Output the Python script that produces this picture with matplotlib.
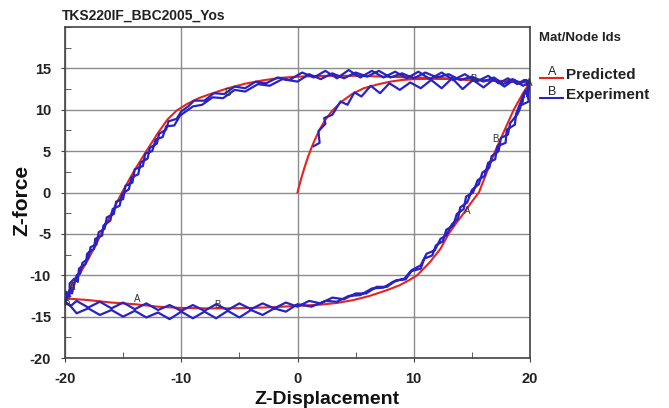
import numpy as np
import matplotlib.pyplot as plt
from matplotlib.lines import Line2D
from matplotlib.ticker import MultipleLocator

plt.rcParams['font.family'] = ['Liberation Sans', 'DejaVu Sans']
plt.rcParams['axes.unicode_minus'] = False

# ---- predicted response (red) ----
pred_virgin_x = [0, 0.3, 0.6, 0.9, 1.2, 1.5, 1.9, 2.4, 3.0, 3.8, 4.7, 5.7, 7.0, 8.0, 9.0, 10.0, 12.0, 14.0, 16.0, 18.0, 20.0]
pred_virgin_y = [0, 1.6, 3.0, 4.3, 5.4, 6.4, 7.6, 8.8, 9.9, 11.0, 11.9, 12.6, 13.1, 13.4, 13.6, 13.7, 13.75, 13.7, 13.6, 13.45, 13.3]

pred_down_x = [20, 19.4, 18.6, 17.8, 17.0, 16.3, 15.6, 14.9, 14.3, 13.6, 13.0, 12.3, 11.4, 10.3, 9.6, 8.8,
               7.7, 6.2, 4.8, 3.4, 2.0, 0, -2, -4, -6, -8, -10, -12, -14, -16, -18, -19.5, -20]
pred_down_y = [13.3, 12.0, 10.0, 7.5, 5.0, 2.5, 0, -1.3, -2.5, -3.8, -5.0, -6.8, -8.4, -10.0, -10.6, -11.2,
               -11.8, -12.5, -13.0, -13.35, -13.55, -13.7, -13.85, -13.95, -14.0, -14.0, -13.95, -13.8,
               -13.5, -13.3, -13.0, -12.85, -12.8]

pred_up_x = [-20, -19.7, -19.3, -18.8, -18.1, -17.4, -16.9, -16.0, -15.1, -14.1, -13.0, -12.0, -11.2, -10.4,
             -9.5, -8.5, -7.5, -6.0, -4.5, -3.0, -1.5, 0, 2.5, 5, 7.5, 10, 12.5, 15, 17.5, 20]
pred_up_y = [-12.8, -12.0, -11.0, -10.0, -8.3, -6.5, -5.0, -2.5, 0, 2.5, 5.0, 7.2, 8.8, 9.9,
             10.7, 11.4, 11.9, 12.6, 13.15, 13.55, 13.85, 14.0, 14.1, 14.1, 14.0, 13.9, 13.8, 13.6, 13.45, 13.3]

# ---- measured response (blue) ----
exp_virgin_x = [1.4, 1.9, 1.8, 2.4, 2.3, 3.0, 3.7, 4.3, 4.9, 5.5, 6.3, 7.1, 7.9, 8.8, 9.7, 10.6, 11.5, 12.4,
                13.3, 14.2, 15.1, 16.0, 16.9, 17.8, 18.6, 19.4, 20.0]
exp_virgin_y = [5.6, 6.0, 7.4, 8.3, 9.0, 9.4, 11.0, 10.6, 12.1, 11.6, 12.9, 12.0, 13.2, 12.4, 13.3, 12.6, 13.6, 12.6,
                13.8, 12.5, 13.6, 12.7, 13.7, 12.8, 13.6, 12.9, 13.3]

exp_down1_x = [20.0, 19.7, 19.9, 19.3, 19.5, 18.8, 18.7, 18.0, 17.9, 17.2, 17.0, 16.4, 16.1, 15.5, 15.1, 14.5,
               14.3, 13.7, 13.4, 12.8, 12.5, 11.9, 11.6, 10.9, 10.6, 9.8, 9.3, 8.5, 7.7, 6.8, 5.9, 5.0, 4.0, 3.0,
               2.0, 1.0, 0.0, -1.0, -2.0, -3.0, -4.0, -5.0, -6.0, -7.0, -8.0, -9.0, -10.0, -11.0, -12.0, -13.0,
               -14.0, -15.0, -16.0, -17.0, -18.0, -19.0, -19.5, -20.0]
exp_down1_y = [13.3, 12.2, 11.0, 10.6, 12.0, 9.5, 8.2, 7.6, 6.0, 5.6, 4.0, 3.6, 2.0, 1.5, 0.0, -0.5,
               -2.0, -2.6, -4.0, -4.5, -5.9, -6.4, -7.6, -8.0, -9.2, -9.5, -10.5, -10.6, -11.4, -11.4, -12.2,
               -12.2, -12.9, -12.7, -13.4, -13.1, -13.8, -13.3, -14.0, -13.4, -14.1, -13.4, -14.2, -13.5, -14.3,
               -13.6, -14.3, -13.6, -14.2, -13.4, -14.1, -13.3, -14.0, -13.2, -13.9, -13.1, -13.7, -13.2]

exp_up1_x = [-20.0, -19.9, -19.6, -19.6, -19.2, -18.9, -18.8, -18.2, -18.1, -17.5, -17.4, -16.8, -16.7, -16.1,
             -15.9, -15.3, -15.1, -14.5, -14.3, -13.7, -13.5, -12.9, -12.7, -12.1, -11.9, -11.3, -11.1, -10.4,
             -10.0, -9.4, -8.9, -8.0, -7.2, -6.3, -5.4, -4.5, -3.6, -2.7, -1.7, -0.7, 0.4, 1.4, 2.4, 3.4, 4.4,
             5.4, 6.4, 7.4, 8.4, 9.4, 10.4, 11.4, 12.4, 13.4, 14.4, 15.4, 16.4, 17.3, 18.1, 18.9, 19.5, 20.0]
exp_up1_y = [-13.4, -12.0, -12.6, -11.0, -10.4, -10.8, -9.2, -8.6, -7.4, -6.8, -5.6, -5.2, -4.0, -3.4,
             -2.0, -1.6, -0.2, 0.4, 1.8, 2.2, 3.6, 4.1, 5.4, 5.9, 7.1, 7.6, 8.6, 8.9,
             9.8, 10.4, 11.1, 11.1, 12.0, 11.9, 12.8, 12.6, 13.4, 13.2, 13.9, 13.6, 14.5, 13.9, 14.7, 13.8, 14.8,
             13.9, 14.7, 13.9, 14.6, 13.8, 14.6, 13.7, 14.5, 13.6, 14.3, 13.4, 14.1, 13.2, 13.8, 13.1, 13.6, 13.3]

exp_down2_x = [20.0, 19.8, 19.6, 19.1, 18.9, 18.3, 18.1, 17.5, 17.3, 16.7, 16.5, 15.9, 15.6, 15.0, 14.6, 14.0,
               13.8, 13.3, 12.8, 12.3, 11.8, 11.1, 10.6, 9.8, 9.2, 8.2, 7.4, 6.4, 5.4, 4.4, 3.4, 2.4, 1.2, 0.0,
               -1.0, -2.0, -3.0, -4.0, -5.0, -6.0, -7.0, -8.0, -9.0, -10.0, -11.0, -12.0, -13.0, -14.0, -15.0,
               -16.0, -17.0, -18.0, -19.0, -19.6, -20.0]
exp_down2_y = [13.5, 11.6, 12.3, 10.0, 9.4, 8.4, 7.0, 6.6, 5.0, 4.4, 3.0, 2.4, 1.0, 0.3, -1.2, -1.8,
               -3.2, -3.8, -5.2, -5.6, -7.0, -7.4, -8.8, -9.4, -10.4, -10.8, -11.5, -11.6, -12.4, -12.5, -13.2,
               -13.1, -13.8, -13.5, -14.4, -14.0, -14.8, -14.2, -15.1, -14.3, -15.2, -14.4, -15.2, -14.4, -15.3,
               -14.5, -15.1, -14.3, -15.0, -14.2, -14.8, -14.0, -14.6, -13.6, -13.4]

exp_up2_x = [-20.0, -19.8, -19.5, -19.4, -19.0, -18.7, -18.5, -18.0, -17.8, -17.3, -17.1, -16.6, -16.4, -15.8,
             -15.6, -15.0, -14.8, -14.2, -14.0, -13.3, -13.1, -12.5, -12.2, -11.6, -11.3, -10.6, -10.1, -9.0,
             -8.2, -7.3, -6.4, -5.4, -4.5, -3.4, -2.4, -1.3, 0.0, 1.0, 2.0, 3.0, 4.0, 5.0, 6.0, 7.0,
             8.0, 9.0, 10.0, 11.0, 12.0, 13.0, 14.0, 15.0, 16.0, 16.9, 17.7, 18.5, 19.2, 19.7, 20.0]
exp_up2_y = [-13.6, -12.6, -11.6, -12.2, -10.0, -9.8, -8.5, -8.0, -6.6, -6.3, -4.8, -4.4, -3.0, -2.6,
             -1.1, -0.8, 0.8, 1.2, 2.8, 3.2, 4.7, 5.0, 6.4, 6.7, 8.0, 8.1, 9.3, 10.4,
             10.6, 11.5, 11.4, 12.4, 12.2, 13.1, 12.9, 13.7, 13.4, 14.3, 13.7, 14.4, 13.8, 14.5, 14.0, 14.7,
             13.9, 14.4, 13.8, 14.5, 13.9, 14.3, 13.6, 14.0, 13.4, 13.9, 13.1, 13.7, 13.2, 13.6, 12.5]

# curve id letters placed along the lines
id_labels = ['B', 'B', 'A', 'B', 'A', 'A', 'B', 'A', 'B']
id_x = [-6.0, 15.1, 19.9, 17.0, 14.6, -19.4, -19.9, -13.8, -6.9]
id_y = [12.0, 13.7, 13.2, 6.5, -2.2, -11.4, -13.2, -12.9, -13.6]

RED = '#e5241e'
BLUE = '#2824c4'

pred_x = pred_virgin_x + pred_down_x + pred_up_x
pred_y = pred_virgin_y + pred_down_y + pred_up_y
exp_x = exp_virgin_x + exp_down1_x + exp_up1_x + exp_down2_x + exp_up2_x
exp_y = exp_virgin_y + exp_down1_y + exp_up1_y + exp_down2_y + exp_up2_y

fig = plt.figure(figsize=(6.69, 4.08), dpi=100)
ax = fig.add_axes([65 / 669, 50 / 408, 465 / 669, 331 / 408])

ax.plot(pred_x, pred_y, color=RED, lw=1.5, zorder=3)
ax.plot(exp_x, exp_y, color=BLUE, lw=1.6, zorder=4)

for lab, x, y in zip(id_labels, id_x, id_y):
    ax.text(x, y, lab, fontsize=7, color='#333333', ha='center', va='center', zorder=5)

ax.set_xlim(-20, 20)
ax.set_ylim(-20, 20)
ax.xaxis.set_major_locator(MultipleLocator(10))
ax.xaxis.set_minor_locator(MultipleLocator(5))
ax.set_yticks([-20, -15, -10, -5, 0, 5, 10, 15])
ax.yaxis.set_minor_locator(MultipleLocator(2.5))
ax.grid(True, which='major', color='#8c8c8c', lw=1.0)
ax.set_axisbelow(True)
for s in ax.spines.values():
    s.set_color('#444444')
    s.set_linewidth(1.2)
ax.tick_params(which='major', direction='out', length=3, color='#444444', labelsize=10.5, pad=7)
ax.tick_params(which='minor', direction='in', length=4, color='#444444')
for lbl in ax.get_xticklabels() + ax.get_yticklabels():
    lbl.set_fontweight('bold')
    lbl.set_color('#222222')

fig.text(327 / 669, 1 - 400 / 408, 'Z-Displacement', fontsize=14, fontweight='bold',
         ha='center', va='center', color='#111111')
fig.text(22 / 669, 1 - 200 / 408, 'Z-force', fontsize=15, fontweight='bold', rotation=90,
         ha='center', va='center', color='#111111')
fig.text(62 / 669, 1 - 16 / 408, 'TKS220IF_BBC2005_Yos', fontsize=10, fontweight='bold',
         ha='left', va='center', color='#222222')

# legend block to the right of the plot
fig.text(539 / 669, 1 - 38 / 408, 'Mat/Node Ids', fontsize=9.5, fontweight='bold',
         ha='left', va='center', color='#222222')
for i, (lab, name, col) in enumerate([('A', 'Predicted', RED), ('B', 'Experiment', BLUE)]):
    yl = 78 + i * 20
    fig.add_artist(Line2D([540 / 669, 563 / 669], [1 - yl / 408, 1 - yl / 408],
                          color=col, lw=1.5, transform=fig.transFigure))
    fig.text(552 / 669, 1 - (yl - 6) / 408, lab, fontsize=9, ha='center', va='center', color='#222222')
    fig.text(566 / 669, 1 - (yl - 3) / 408, name, fontsize=11, fontweight='bold',
             ha='left', va='center', color='#222222')

fig.savefig('out.png', dpi=100)
